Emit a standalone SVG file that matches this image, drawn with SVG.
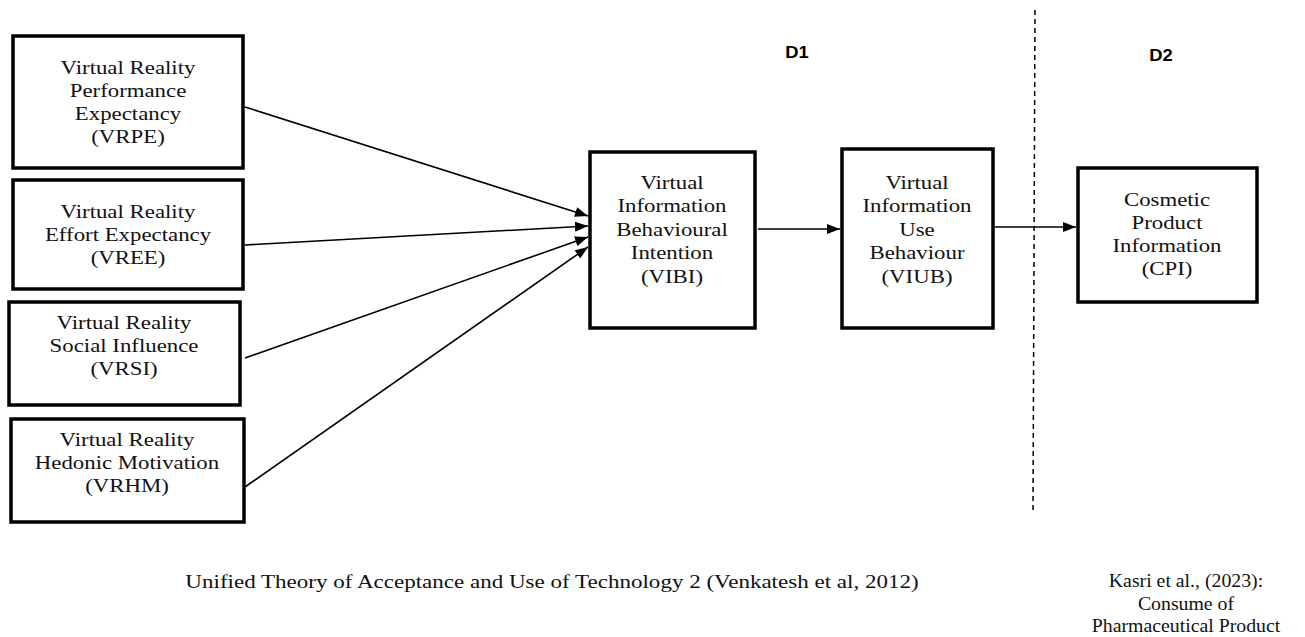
<svg xmlns="http://www.w3.org/2000/svg" width="1305" height="637" viewBox="0 0 1305 637">
<style>
.box{fill:#fff;stroke:#000;stroke-width:3.5}
.t{font-family:"Liberation Serif","Times New Roman",serif;font-size:19.5px;text-anchor:middle;fill:#111}
.b{font-family:"Liberation Serif","Times New Roman",serif;font-size:18px;text-anchor:middle;fill:#111}
.d{font-family:"Liberation Sans",Arial,sans-serif;font-size:16px;font-weight:bold;text-anchor:middle;fill:#000}
.c{fill:none;stroke:#000;stroke-width:1.6}
</style>
<defs>
<marker id="ah" markerUnits="userSpaceOnUse" markerWidth="14" markerHeight="10" refX="13" refY="5" orient="auto">
<path d="M0,0 L13,5 L0,10 Z" fill="#000"/>
</marker>
</defs>
<rect width="1305" height="637" fill="#fff"/>
<g id="connectors">
<line class="c" x1="245" y1="107" x2="588" y2="216" marker-end="url(#ah)"/>
<line class="c" x1="245" y1="245" x2="588" y2="226" marker-end="url(#ah)"/>
<line class="c" x1="245" y1="358" x2="588" y2="237" marker-end="url(#ah)"/>
<line class="c" x1="245" y1="487" x2="588" y2="247" marker-end="url(#ah)"/>
<line class="c" x1="758" y1="229" x2="840" y2="229" marker-end="url(#ah)"/>
<line class="c" x1="995" y1="227" x2="1076" y2="227" marker-end="url(#ah)"/>
<line x1="1035" y1="10" x2="1033" y2="510" stroke="#000" stroke-width="1.5" stroke-dasharray="5,4"/>
</g>
<g id="vrpe">
<rect class="box" x="13" y="36" width="230" height="132"/>
<text class="t" transform="translate(128,0) scale(1.17,1)"><tspan x="0" y="74">Virtual Reality</tspan><tspan x="0" y="97">Performance</tspan><tspan x="0" y="120">Expectancy</tspan><tspan x="0" y="143">(VRPE)</tspan></text>
</g>
<g id="vree">
<rect class="box" x="13" y="180" width="230" height="109"/>
<text class="t" transform="translate(128,0) scale(1.17,1)"><tspan x="0" y="218">Virtual Reality</tspan><tspan x="0" y="241">Effort Expectancy</tspan><tspan x="0" y="264">(VREE)</tspan></text>
</g>
<g id="vrsi">
<rect class="box" x="9" y="302" width="231" height="103"/>
<text class="t" transform="translate(124,0) scale(1.17,1)"><tspan x="0" y="329">Virtual Reality</tspan><tspan x="0" y="352">Social Influence</tspan><tspan x="0" y="375">(VRSI)</tspan></text>
</g>
<g id="vrhm">
<rect class="box" x="11" y="419" width="233" height="103"/>
<text class="t" transform="translate(127,0) scale(1.17,1)"><tspan x="0" y="446">Virtual Reality</tspan><tspan x="0" y="469">Hedonic Motivation</tspan><tspan x="0" y="492">(VRHM)</tspan></text>
</g>
<g id="vibi">
<rect class="box" x="590" y="152" width="165" height="176"/>
<text class="t" transform="translate(672,0) scale(1.17,1)"><tspan x="0" y="189">Virtual</tspan><tspan x="0" y="212">Information</tspan><tspan x="0" y="236">Behavioural</tspan><tspan x="0" y="259">Intention</tspan><tspan x="0" y="283">(VIBI)</tspan></text>
</g>
<g id="viub">
<rect class="box" x="842" y="149" width="151" height="179"/>
<text class="t" transform="translate(917,0) scale(1.17,1)"><tspan x="0" y="189">Virtual</tspan><tspan x="0" y="212">Information</tspan><tspan x="0" y="236">Use</tspan><tspan x="0" y="259">Behaviour</tspan><tspan x="0" y="283">(VIUB)</tspan></text>
</g>
<g id="cpi">
<rect class="box" x="1078" y="168" width="179" height="134"/>
<text class="t" transform="translate(1167,0) scale(1.17,1)"><tspan x="0" y="206">Cosmetic</tspan><tspan x="0" y="229">Product</tspan><tspan x="0" y="252">Information</tspan><tspan x="0" y="275">(CPI)</tspan></text>
</g>
<g id="labels">
<text class="d" transform="translate(797,0) scale(1.15,1)" x="0" y="58">D1</text>
<text class="d" transform="translate(1161,0) scale(1.15,1)" x="0" y="61">D2</text>
<text class="b" transform="translate(552,0) scale(1.28,1)" x="0" y="588">Unified Theory of Acceptance and Use of Technology 2 (Venkatesh et al, 2012)</text>
<text class="b" transform="translate(1186,0) scale(1.1,1)"><tspan x="0" y="587">Kasri et al., (2023):</tspan><tspan x="0" y="610">Consume of</tspan><tspan x="0" y="632">Pharmaceutical Product</tspan></text>
</g>
</svg>
